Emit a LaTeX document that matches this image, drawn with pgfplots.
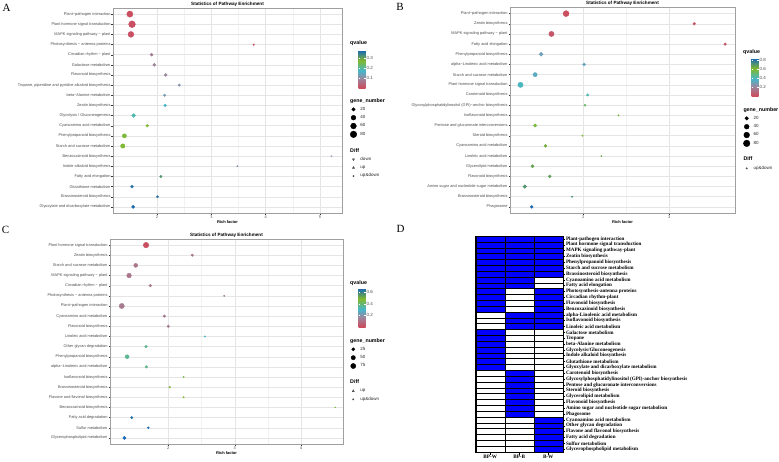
\documentclass[border=0pt]{standalone}
\usepackage{pgfplots}
\pgfplotsset{compat=1.18}
\usepackage{pgfplotstable}
\usepackage{fontspec}
\setmainfont{Liberation Sans}
\newfontfamily\serif{Liberation Serif}
\newcommand\fs[1]{\fontsize{#1}{#1}\selectfont}
\definecolor{tickc}{gray}{0.3}
\definecolor{gridmaj}{gray}{0.90}
\definecolor{gridmin}{gray}{0.95}
\pgfdeclareplotmark{cell}{\pgfpathrectangle{\pgfpoint{-14.5pt}{-2.919pt}}{\pgfpoint{29pt}{5.838pt}}\pgfusepathqfillstroke}
\pgfplotsset{
  /pgf/number format/assume math mode=true,
  colormap={qv}{rgb255(0pt)=(205,75,92) rgb255(25pt)=(155,135,158) rgb255(45pt)=(70,182,205) rgb255(72pt)=(130,185,45) rgb255(100pt)=(20,100,190)},
  dotleg/.style={legend image code/.code={\path[draw=none,fill=none] (0pt,-4.17pt) rectangle (10.5pt,4.17pt); \draw[##1] plot coordinates {(3.5pt,0pt)};}},
  blankleg/.style={legend image code/.code={\path[draw=none,fill=none] (0pt,-4.17pt) rectangle (10.5pt,4.17pt);}},
  bub/.style={scatter, only marks, forget plot, point meta=\thisrow{q},
    scatter/use mapped color={draw=mapped color, fill=mapped color},
    visualization depends on={\thisrow{n} \as \gn},
    scatter/@pre marker code/.append style={/tikz/mark size=#1*sqrt(\gn)+0.25}},
  enrich/.style={
    anchor=south west, scale only axis,
    y dir=reverse, ymin=0.4, ymax=20.6, ytick={1,...,20},
    axis line style={draw=gray!75, line width=0.5pt},
    tick style={draw=gray!40!black, line width=0.35pt},
    major tick length=1.5pt, minor tick length=0pt, tick align=outside,
    xtick pos=bottom, ytick pos=left,
    minor x tick num=1, grid=both,
    major grid style={draw=gridmaj, line width=0.45pt},
    minor grid style={draw=gridmin, line width=0.3pt},
    yticklabel style={font=\fs{3.9}, text=tickc, inner sep=0.8pt},
    xticklabel style={font=\fs{3.9}, text=tickc, inner sep=0.8pt},
    xlabel={Rich factor},
    xlabel style={font=\fs{4}\bfseries, at={(axis description cs:0.5,0)}, anchor=center, yshift=-9.3pt, inner sep=0pt},
    every axis title shift=0pt,
    title={Statistics of Pathway Enrichment},
    title style={font=\fs{4.6}\bfseries, at={(axis description cs:0.5,1)}, anchor=south, yshift=1.8pt, inner sep=0pt},
    colormap name=qv, point meta min=0,
    legend style={draw=none, fill=none, inner sep=0pt, outer sep=0pt, row sep=0pt, column sep=0pt,
      nodes={inner sep=0pt, font=\fs{4.5}, text=black!85, anchor=west}, anchor=north west},
    legend cell align=left,
    colorbar,
    colorbar style={at={(parent axis.north east)}, anchor=north west, width=7pt, scale only axis,
      title={}, xlabel={}, ylabel={}, grid=none, y dir=normal,
      axis line style={draw=none}, tick style={draw=white, line width=0.4pt},
      major tick length=1.8pt, tick align=inside, xtick=\empty,
      yticklabel style={font=\fs{4.5}, text=tickc, inner sep=0.8pt, /pgf/number format/fixed, /pgf/number format/precision=1}},
  },
}
\pgfplotstableread{
y x q n
1 1.50 0.005 70
2 1.54 0.008 85
3 1.52 0.010 62
5 1.90 0.080 14
6 1.95 0.085 14
7 2.16 0.095 14
8 2.41 0.115 8
9 2.14 0.130 8
10 2.15 0.170 10
11 1.57 0.190 25
12 1.82 0.270 11
13 1.40 0.265 30
14 1.37 0.270 33
17 2.07 0.320 8
18 1.54 0.360 14
19 2.01 0.360 7
20 1.56 0.370 15
}\tabAc
\pgfplotstableread{
y x q n
4 3.78 0.010 5
15 5.21 0.115 2
}\tabAd
\pgfplotstableread{
y x q n
16 3.48 0.115 3
}\tabAu
\pgfplotstableread{
y x q n
1 1.80 0.010 65
2 3.29 0.030 10
3 1.63 0.040 48
4 3.65 0.040 10
5 1.51 0.300 25
6 2.01 0.320 12
7 1.44 0.340 30
8 1.27 0.400 50
9 2.05 0.420 8
10 2.02 0.520 6
11 2.41 0.570 2
12 1.44 0.580 18
13 1.99 0.610 2
14 1.56 0.640 12
15 2.21 0.660 1
16 1.41 0.670 16
17 1.61 0.680 12
18 1.32 0.710 20
19 1.87 0.730 2
20 1.40 0.820 13
}\tabB
\pgfplotstableread{
y x q n
1 1.665 0.010 86
2 2.36 0.120 13
3 1.51 0.120 42
4 1.41 0.120 60
5 1.73 0.130 17
6 2.84 0.140 3
7 1.30 0.130 76
8 1.94 0.140 15
9 2.00 0.140 15
10 2.55 0.300 3
11 1.665 0.370 15
12 1.38 0.370 42
13 1.67 0.375 15
14 2.23 0.440 3
15 2.02 0.470 6
16 2.23 0.490 3
18 1.45 0.640 12
19 1.70 0.650 9
20 1.34 0.660 27
}\tabCc
\pgfplotstableread{
y x q n
17 4.51 0.500 1
}\tabCu
\pgfplotstableread{
r a b c
1 1 1 1
2 1 1 1
3 1 1 1
4 1 1 1
5 1 1 1
6 1 1 1
7 1 1 1
8 1 1 0
9 1 1 0
10 1 0 1
11 1 0 1
12 1 0 1
13 1 0 1
14 0 1 1
15 0 1 1
16 0 1 1
17 1 0 0
18 1 0 0
19 1 0 0
20 1 0 0
21 1 0 0
22 1 0 0
23 1 0 0
24 0 1 0
25 0 1 0
26 0 1 0
27 0 1 0
28 0 1 0
29 0 1 0
30 0 1 0
31 0 1 0
32 0 0 1
33 0 0 1
34 0 0 1
35 0 0 1
36 0 0 1
37 0 0 1
}\tabD
\begin{document}
\begin{tikzpicture}
\path[use as bounding box] (0pt,0pt) rectangle (779pt,461pt);
% ---------------- A
\begin{axis}[enrich, at={(113pt,248pt)}, width=229pt, height=205pt,
  xmin=1.19, xmax=5.405, xtick={2,3,4,5}, point meta max=0.38,
  colorbar style={xshift=8pt, yshift=-42pt, height=38pt, ytick={0.1,0.2,0.3}},
  legend style={at={(1.0349,0.5667)}},
  yticklabels={Plant−pathogen interaction, Plant hormone signal transduction, MAPK signaling pathway − plant, Photosynthesis − antenna proteins, Circadian rhythm − plant, Galactose metabolism, Flavonoid biosynthesis, {Tropane, piperidine and pyridine alkaloid biosynthesis}, beta−Alanine metabolism, Zeatin biosynthesis, Glycolysis / Gluconeogenesis, Cyanoamino acid metabolism, Phenylpropanoid biosynthesis, Starch and sucrose metabolism, Benzoxazinoid biosynthesis, Indole alkaloid biosynthesis, Fatty acid elongation, Glutathione metabolism, Brassinosteroid biosynthesis, Glyoxylate and dicarboxylate metabolism}]
\addplot[bub=0.34, mark=*] table[x=x,y=y] {\tabAc};
\addplot[bub=0.34, mark=triangle*, mark options={rotate=180}] table[x=x,y=y] {\tabAd};
\addplot[bub=0.34, mark=triangle*] table[x=x,y=y] {\tabAu};
\addlegendimage{blankleg}\addlegendentry{\phantom{0}}
\addlegendimage{only marks, mark=*, black, mark size=1.77pt, dotleg}\addlegendentry{20}
\addlegendimage{only marks, mark=*, black, mark size=2.40pt, dotleg}\addlegendentry{40}
\addlegendimage{only marks, mark=*, black, mark size=2.88pt, dotleg}\addlegendentry{60}
\addlegendimage{only marks, mark=*, black, mark size=3.29pt, dotleg}\addlegendentry{80}
\addlegendimage{blankleg}\addlegendentry{\phantom{0}}
\addlegendimage{blankleg}\addlegendentry{\phantom{0}}
\addlegendimage{only marks, mark=triangle*, black!70, mark size=1.2pt, mark options={rotate=180}, dotleg}\addlegendentry{down}
\addlegendimage{only marks, mark=triangle*, black!70, mark size=1.2pt, dotleg}\addlegendentry{up}
\addlegendimage{only marks, mark=*, black!70, mark size=0.7pt, dotleg}\addlegendentry{up\&down}
\end{axis}
% ---------------- B
\begin{axis}[enrich, at={(510pt,248pt)}, width=225pt, height=205.5pt,
  xmin=1.148, xmax=3.764, xtick={2,3}, point meta max=0.844,
  colorbar style={xshift=8pt, yshift=-50.5pt, height=38pt, ytick={0.2,0.4,0.6,0.8}},
  legend style={at={(1.0364,0.5215)}},
  yticklabels={Plant−pathogen interaction, Zeatin biosynthesis, MAPK signaling pathway − plant, Fatty acid elongation, Phenylpropanoid biosynthesis, alpha−Linolenic acid metabolism, Starch and sucrose metabolism, Plant hormone signal transduction, Carotenoid biosynthesis, Glycosylphosphatidylinositol (GPI)−anchor biosynthesis, Isoflavonoid biosynthesis, Pentose and glucuronate interconversions, Steroid biosynthesis, Cyanoamino acid metabolism, Linoleic acid metabolism, Glycerolipid metabolism, Flavonoid biosynthesis, Amino sugar and nucleotide sugar metabolism, Brassinosteroid biosynthesis, Phagosome}]
\addplot[bub=0.34, mark=*] table[x=x,y=y] {\tabB};
\addlegendimage{blankleg}\addlegendentry{\phantom{0}}
\addlegendimage{only marks, mark=*, black, mark size=1.77pt, dotleg}\addlegendentry{20}
\addlegendimage{only marks, mark=*, black, mark size=2.40pt, dotleg}\addlegendentry{40}
\addlegendimage{only marks, mark=*, black, mark size=2.88pt, dotleg}\addlegendentry{60}
\addlegendimage{only marks, mark=*, black, mark size=3.29pt, dotleg}\addlegendentry{80}
\addlegendimage{blankleg}\addlegendentry{\phantom{0}}
\addlegendimage{blankleg}\addlegendentry{\phantom{0}}
\addlegendimage{only marks, mark=*, black!70, mark size=0.7pt, dotleg}\addlegendentry{up\&down}
\end{axis}
% ---------------- C
\begin{axis}[enrich, at={(110pt,17pt)}, width=233pt, height=205pt,
  xmin=1.123, xmax=4.627, xtick={2,3,4}, point meta max=0.67,
  colorbar style={xshift=7pt, yshift=-49pt, height=39pt, ytick={0.2,0.4,0.6}},
  legend style={at={(1.029,0.5228)}},
  yticklabels={Plant hormone signal transduction, Zeatin biosynthesis, Starch and sucrose metabolism, MAPK signaling pathway − plant, Circadian rhythm − plant, Photosynthesis − antenna proteins, Plant−pathogen interaction, Cyanoamino acid metabolism, Flavonoid biosynthesis, Linoleic acid metabolism, Other glycan degradation, Phenylpropanoid biosynthesis, alpha−Linolenic acid metabolism, Isoflavonoid biosynthesis, Brassinosteroid biosynthesis, Flavone and flavonol biosynthesis, Benzoxazinoid biosynthesis, Fatty acid degradation, Sulfur metabolism, Glycerophospholipid metabolism}]
\addplot[bub=0.27, mark=*] table[x=x,y=y] {\tabCc};
\addplot[bub=0.27, mark=triangle*] table[x=x,y=y] {\tabCu};
\addlegendimage{blankleg}\addlegendentry{\phantom{0}}
\addlegendimage{only marks, mark=*, black, mark size=1.60pt, dotleg}\addlegendentry{25}
\addlegendimage{only marks, mark=*, black, mark size=2.16pt, dotleg}\addlegendentry{50}
\addlegendimage{only marks, mark=*, black, mark size=2.59pt, dotleg}\addlegendentry{75}
\addlegendimage{blankleg}\addlegendentry{\phantom{0}}
\addlegendimage{blankleg}\addlegendentry{\phantom{0}}
\addlegendimage{only marks, mark=triangle*, black!70, mark size=1.2pt, dotleg}\addlegendentry{up}
\addlegendimage{only marks, mark=*, black!70, mark size=0.7pt, dotleg}\addlegendentry{up\&down}
\end{axis}
% ---------------- D
\begin{axis}[at={(475.7pt,9pt)}, anchor=south west, scale only axis, width=87pt, height=216pt,
  xmin=0.5, xmax=3.5, ymin=0.5, ymax=37.5, y dir=reverse,
  xtick={1,2,3}, xticklabels={BP-W,BP-B,B-W}, ytick={1,...,37},
  yticklabel pos=right, ytick pos=right, xtick pos=bottom, tick align=outside,
  major tick length=2.5pt, tick style={black, line width=0.4pt},
  axis line style={black, line width=0.8pt}, axis on top,
  yticklabel style={font=\serif\bfseries\fs{5.1}, anchor=west, inner sep=0.6pt},
  xticklabel style={font=\serif\bfseries\fs{5.2}, inner sep=0.6pt},
  colormap={wb}{rgb255=(255,255,255) rgb255=(0,0,255)}, point meta min=0, point meta max=1,
  yticklabels={Plant-pathogen interaction, Plant hormone signal transduction, MAPK signaling pathway-plant, Zeatin biosynthesis, Phenylpropanoid biosynthesis, Starch and sucrose metabolism, Brassinosteroid biosynthesis, Cyanoamino acid metabolism, Fatty acid elongation, Photosynthesis-antenna proteins, Circadian rhythm-plant, Flavonoid biosynthesis, Benzoxazinoid biosynthesis, alpha-Linolenic acid metabolism, Isoflavonoid biosynthesis, Linoleic acid metabolism, Galactose metabolism, Tropane, beta-Alanine metabolism, Glycolysis/Gluconeogenesis, Indole alkaloid biosynthesis, Glutathione metabolism, Glyoxylate and dicarboxylate metabolism, Carotenoid biosynthesis, Glycosylphosphatidylinositol (GPI)-anchor biosynthesis, Pentose and glucuronate interconversions, Steroid biosynthesis, Glycerolipid metabolism, Flavonoid biosynthesis, Amino sugar and nucleotide sugar metabolism, Phagosome, Cyanoamino acid metabolism, Other glycan degradation, Flavone and flavonol biosynthesis, Fatty acid degradation, Sulfur metabolism, Glycerophospholipid metabolism}]
\addplot[scatter, only marks, mark=cell, point meta=\thisrow{a}, scatter/use mapped color={draw=black, fill=mapped color}, mark options={line width=0.35pt}] table[x expr=1, y=r] {\tabD};
\addplot[scatter, only marks, mark=cell, point meta=\thisrow{b}, scatter/use mapped color={draw=black, fill=mapped color}, mark options={line width=0.35pt}] table[x expr=2, y=r] {\tabD};
\addplot[scatter, only marks, mark=cell, point meta=\thisrow{c}, scatter/use mapped color={draw=black, fill=mapped color}, mark options={line width=0.35pt}] table[x expr=3, y=r] {\tabD};
\end{axis}
% ---------------- legend titles and panel letters
\begin{scope}[every node/.style={anchor=west, inner sep=0pt, font=\fs{5.3}\bfseries}]
\node at (350pt,418pt) {qvalue};
\node at (350pt,360pt) {gene\_number};
\node at (350pt,310pt) {Diff};
\node at (743pt,409pt) {qvalue};
\node at (743.3pt,351pt) {gene\_number};
\node at (743.3pt,302pt) {Diff};
\node at (350pt,178pt) {qvalue};
\node at (350pt,120pt) {gene\_number};
\node at (350pt,79pt) {Diff};
\end{scope}
\node[inner sep=0pt, font=\serif\fs{11}] at (6.7pt,453.2pt) {A};
\node[inner sep=0pt, font=\serif\fs{11}] at (400pt,454.5pt) {B};
\node[inner sep=0pt, font=\serif\fs{11}] at (5.5pt,231pt) {C};
\node[inner sep=0pt, font=\serif\fs{11}] at (400.5pt,231.7pt) {D};
\end{tikzpicture}
\end{document}
